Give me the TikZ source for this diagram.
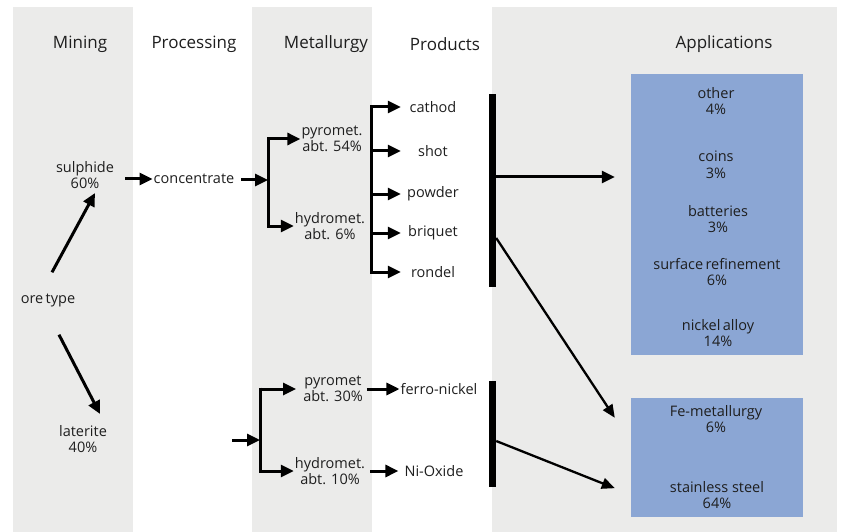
\documentclass[tikz,border=0pt]{standalone}
\usepackage{fontspec}
\setmainfont{Open Sans}
\usetikzlibrary{positioning,arrows.meta}
\definecolor{bandgray}{HTML}{EBEBEA}
\definecolor{appblue}{HTML}{8BA6D4}
\definecolor{ink}{HTML}{1E1E1E}
\begin{document}
\begin{tikzpicture}[x=1pt, y=-1pt,
  flow/.style={-{Triangle[length=13pt,width=12pt]}, line width=3pt},
  thin flow/.style={-{Triangle[length=13pt,width=11pt]}, line width=2.3pt},
  plain/.style={line width=3pt},
  head/.style={font=\fontsize{17}{19}\selectfont, text=ink},
  lbl/.style={font=\fontsize{14.5}{16.5}\selectfont, text=ink, align=center, inner sep=1pt},
  prod/.style={lbl, minimum width=64pt},
  band/.style={fill=bandgray},
  appbox/.style={fill=appblue, inner sep=0pt, minimum width=172pt},
  bar/.style={fill=black, inner sep=0pt, minimum width=7pt}]
\useasboundingbox (0,0) rectangle (841,532);

% grey column bands
\fill[band] (13,7) rectangle (133,532);
\fill[band] (252,7) rectangle (372,532);
\fill[band] (492,7) rectangle (837,532);

% column titles
\node[head] (mining) at (80,44) {Mining};
\node[head] (processing) at (194,44) {Processing};
\node[head] (metallurgy) at (326,44) {Metallurgy};
\node[head] (products) at (445,44) {Products};
\node[head] (applications) at (724,44) {Applications};

% mining
\node[lbl] (ore) at (48,300) {ore\,type};
\node[lbl] (sulphide) at (85,175) {sulphide\\60\%};
\node[lbl] (laterite) at (83,439) {laterite\\40\%};
\draw[flow] ([shift={(4pt,20pt)}]ore.north) -- ([shift={(10pt,-3pt)}]sulphide.south);
\draw[flow] ([shift={(11pt,-27pt)}]ore.south) -- ([shift={(17pt,10pt)}]laterite.north);

% sulphide route
\node[lbl] (concentrate) at (194,179) {concentrate};
\coordinate (split1) at (268,180);
\node[lbl] (pyro54) at (332,139) {pyromet.\\abt. 54\%};
\node[lbl] (hydro6) at (330,226) {hydromet.\\abt. 6\%};
\draw[flow, shorten <=10pt] (sulphide.east |- concentrate.west) -- (concentrate.west);
\draw[flow, shorten <=6pt] (concentrate.east |- split1) -- (split1);
\draw[plain] ([yshift=1.5pt]split1 |- pyro54.west) -- ([yshift=-1.5pt]split1 |- hydro6.west);
\draw[flow] (split1 |- pyro54.west) -- (pyro54.west);
\draw[flow] (split1 |- hydro6.west) -- (hydro6.west);

% products
\coordinate (prodline) at (371,0);
\node[prod] (cathod) at (433,107) {cathod};
\node[prod] (shot) at (433,151) {shot};
\node[prod] (powder) at (433,194) {powder};
\node[prod] (briquet) at (433,233) {briquet};
\node[prod] (rondel) at (433,272) {rondel};
\draw[plain] ([yshift=1.5pt]prodline |- cathod.west) -- ([yshift=-1.5pt]prodline |- rondel.west);
\foreach \p in {cathod,shot,powder,briquet,rondel}
  \draw[flow] (prodline |- \p.west) -- (\p.west);

% laterite route
\coordinate (latin) at (232,440);
\coordinate (split2) at (260,440);
\node[lbl] (pyro30) at (333,389) {pyromet\\abt. 30\%};
\node[lbl] (hydro10) at (330,471) {hydromet.\\abt. 10\%};
\node[lbl] (ferro) at (439,389) {ferro-nickel};
\node[lbl] (nioxide) at (434,471) {Ni-Oxide};
\draw[flow] (latin) -- (split2);
\draw[plain] ([yshift=1.5pt]split2 |- pyro30.west) -- ([yshift=-1.5pt]split2 |- hydro10.west);
\draw[flow] (split2 |- pyro30.west) -- ([xshift=-6pt]pyro30.west);
\draw[flow] (split2 |- hydro10.west) -- (hydro10.west);
\draw[flow, shorten <=3pt] (pyro30.east) -- (ferro.west);
\draw[flow, shorten <=4pt] (hydro10.east) -- ([xshift=-5pt]nioxide.west);

% collecting bars
\node[bar, minimum height=193pt] (topbar) at (492.5,190.5) {};
\node[bar, minimum height=106pt] (lowbar) at (492.5,434) {};

% applications
\node[appbox, minimum height=281pt] (upperapps) at (717,214.5) {};
\node[appbox, minimum height=119pt] (lowerapps) at (717,457.5) {};
\node[lbl] (other) at (716,101) {other\\4\%};
\node[lbl] (coins) at (716,165) {coins\\3\%};
\node[lbl] (batteries) at (718,219) {batteries\\3\%};
\node[lbl] (surface) at (717,272) {surface\,refinement\\6\%};
\node[lbl] (alloy) at (718,333) {nickel\,alloy\\14\%};
\node[lbl] (femet) at (716,419) {Fe-metallurgy\\6\%};
\node[lbl] (stainless) at (717,495) {stainless steel\\64\%};

\coordinate (bar1out) at ([yshift=13.5pt]topbar.east);
\draw[flow, shorten >=16pt] (bar1out) -- (bar1out -| upperapps.west);
\draw[thin flow] ([yshift=-47.5pt]topbar.east) -- ([shift={(-16pt,-20pt)}]lowerapps.north west);
\draw[thin flow] ([yshift=-7pt]lowbar.east) -- ([shift={(-16pt,29pt)}]lowerapps.south west);
\end{tikzpicture}
\end{document}
